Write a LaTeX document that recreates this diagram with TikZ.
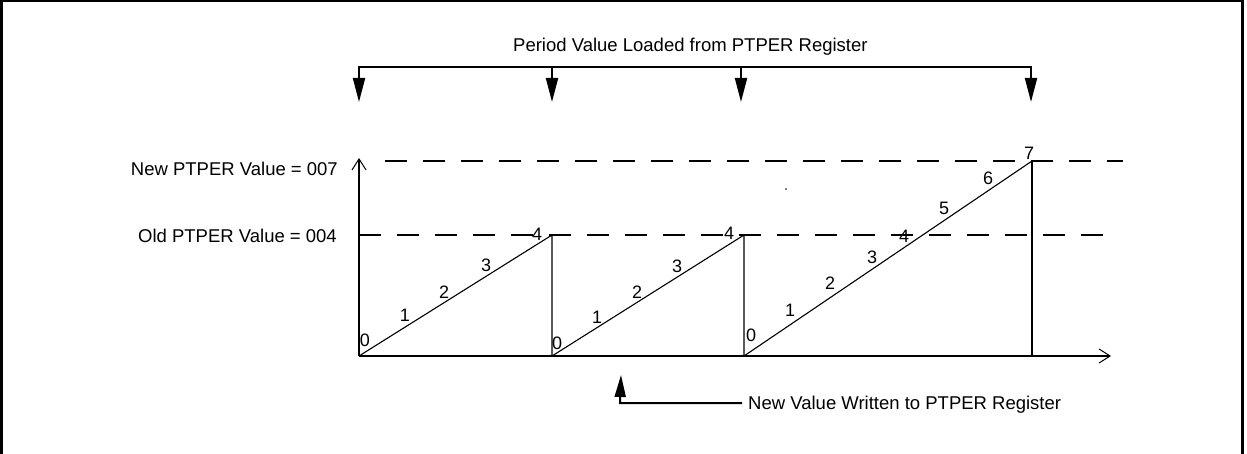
\documentclass[tikz,border=0pt]{standalone}
\usepackage{fontspec}
\setmainfont{Liberation Sans}
\usetikzlibrary{arrows.meta}
\begin{document}
\begin{tikzpicture}[x=1pt,y=-1pt,
  lbl/.style={inner sep=0pt,font=\fontsize{18.5}{21}\selectfont},
  dig/.style={inner sep=0pt,font=\fontsize{18}{20}\selectfont},
  thickline/.style={line width=2pt},
  thinline/.style={line width=1.1pt},
  dashline/.style={line width=2pt,dash pattern=on 22pt off 16pt},
  downarrow/.style={line width=2pt,-{Triangle[width=12pt,length=24pt]}},
  axisarrow/.style={line width=2pt,-{Straight Barb[length=11pt,width=14pt,line width=1pt]}}]
\useasboundingbox (0,0) rectangle (1247,454);
% frame (no bottom edge)
\draw[line width=2.6pt] (1.3,454) -- (1.3,1.2) -- (1242.5,1.2) -- (1242.5,454);

% coordinates
\coordinate (O1) at (359,356);
\coordinate (T1) at (552,235);
\coordinate (O2) at (552,356);
\coordinate (T2) at (744,235);
\coordinate (O3) at (744,356);
\coordinate (T3) at (1032,161);
\coordinate (XE) at (1111,356);
\coordinate (YE) at (359,158);

% dashed levels
\coordinate (N1) at (385,161);
\coordinate (N2) at (1123,161);
\coordinate (D1) at (359,235);
\coordinate (D2) at (1113,235);
\draw[dashline] (N1) -- (N2);
\draw[dashline] (D1) -- (D2);

% axes
\draw[axisarrow] (O1) -- (XE);
\draw[axisarrow] (O1) -- (YE);

% ramps
\draw[thinline] (O1) -- (T1) -- (O2);
\draw[thinline] (O2) -- (T2) -- (O3);
\draw[thinline] (O3) -- (T3);
\draw[thickline] (T3) -- (1032,356);

% stray dot
\fill (786,189) circle (0.9pt);

% level labels
\node[lbl,anchor=base east] (newv) at (338,175.5) {New PTPER Value = 007};
\node[lbl,anchor=base east] (oldv) at (337,243) {Old PTPER Value = 004};

% top bracket
\node[lbl,anchor=base west] (top) at (513,52) {Period Value Loaded from PTPER Register};
\coordinate (B1) at (359,67);
\coordinate (B2) at (552,67);
\coordinate (B3) at (741,67);
\coordinate (B4) at (1031,67);
\draw[thickline] ([xshift=-1pt]B1) -- ([xshift=1pt]B4);
\draw[downarrow] (B1) -- (359,102);
\draw[downarrow] (B2) -- (552,102);
\draw[downarrow] (B3) -- (741,102);
\draw[downarrow] (B4) -- (1031,102);

% bottom arrow
\node[lbl,anchor=base west] (bot) at (748,409.5) {New Value Written to PTPER Register};
\coordinate (W1) at (742,403);
\coordinate (W2) at (621,403);
\coordinate (W3) at (621,375);
\draw[line width=2pt,-{Triangle[width=11pt,length=22pt]}] (W1) -- ([xshift=-1pt]W2) -- (W3);

% ramp digits
\foreach \t/\x/\y in {0/365/340,1/405/315,2/444/292,3/486/265,4/537/234,
                      0/557/343,1/597/317,2/637/292,3/677/266,4/729/233,
                      0/751/335,1/790/310,2/830/283,3/872/257,4/904/236,5/944/208,6/988/178,7/1029/153}
  \node[dig] at (\x,\y) {\t};
\end{tikzpicture}
\end{document}
